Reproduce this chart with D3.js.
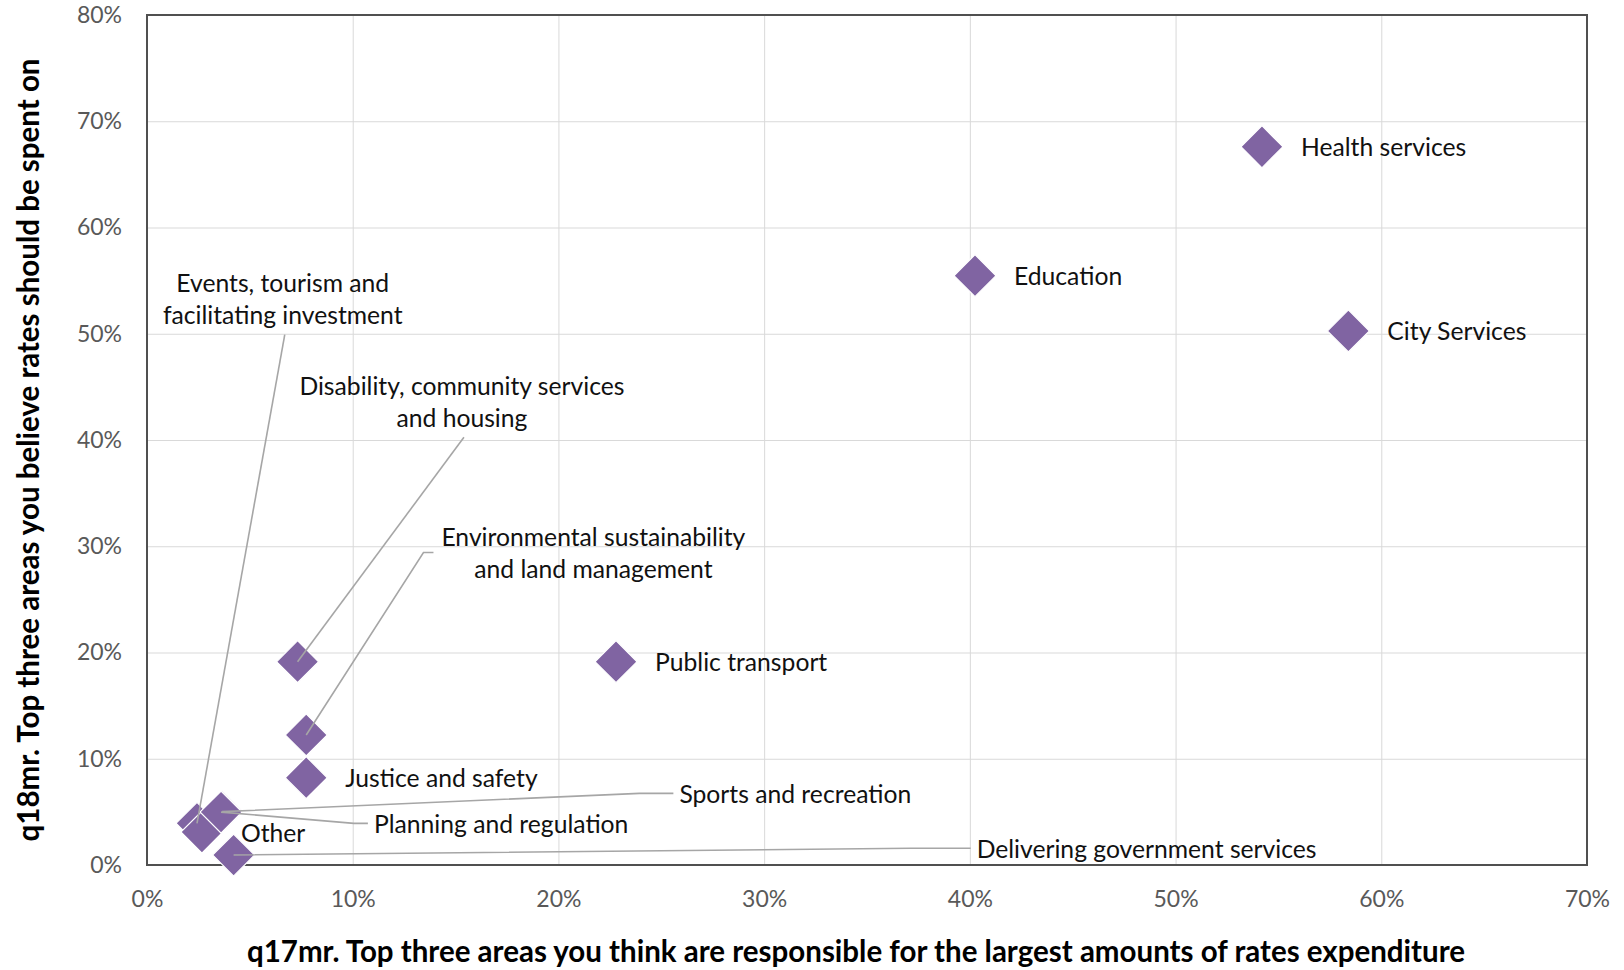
<!DOCTYPE html>
<html><head><meta charset="utf-8">
<script src="https://cdn.jsdelivr.net/npm/d3@7"></script>
<style>body{margin:0;background:#fff;overflow:hidden}</style>
</head><body>
<svg id="chart" width="1624" height="970"></svg>
<script>
// ---- data ----
const categories = [
  "Health services", "Education", "City Services", "Public transport",
  "Disability, community services and housing",
  "Environmental sustainability and land management",
  "Justice and safety", "Events, tourism and facilitating investment",
  "Other", "Sports and recreation", "Planning and regulation",
  "Delivering government services"
];
const xValues = [0.542, 0.4025, 0.584, 0.228, 0.0732, 0.0774, 0.0774, 0.0243, 0.0267, 0.0365, 0.0360, 0.0421];
const yValues = [0.676, 0.5546, 0.5026, 0.1913, 0.1913, 0.1224, 0.0822, 0.0392, 0.0310, 0.0502, 0.0498, 0.0094];
const xTicks = [0, 0.1, 0.2, 0.3, 0.4, 0.5, 0.6, 0.7];
const yTicks = [0, 0.1, 0.2, 0.3, 0.4, 0.5, 0.6, 0.7, 0.8];
const xTitle = "q17mr. Top three areas you think are responsible for the largest amounts of rates expenditure";
const yTitle = "q18mr. Top three areas you believe rates should be spent on";

// label text lines per category
const labelLines = [
  ["Health services"], ["Education"], ["City Services"], ["Public transport"],
  ["Disability, community services", "and housing"],
  ["Environmental sustainability", "and land management"],
  ["Justice and safety"], ["Events, tourism and", "facilitating investment"],
  ["Other"], ["Sports and recreation"], ["Planning and regulation"],
  ["Delivering government services"]
];

// ---- layout (label placement, in data units where placed manually) ----
const labelLayout = [
  {mode: "right"}, {mode: "right"}, {mode: "right"}, {mode: "right"},
  {mode: "below", lx: 0.1531, ly: 0.4515},
  {mode: "left",  lx: 0.217,  ly: 0.3092},
  {mode: "right"},
  {mode: "below", lx: 0.066,  ly: 0.5482},
  {mode: "right"},
  {mode: "side",  lx: 0.2588, ly: 0.0674, seg: 34},
  {mode: "side",  lx: 0.1103, ly: 0.0392, seg: 14},
  {mode: "side",  lx: 0.4033, ly: 0.0158, seg: 60}
];

const W = 1624, H = 970;
const M = {left: 147, top: 15, right: W - 1587, bottom: H - 865};
const iw = W - M.left - M.right, ih = H - M.top - M.bottom;

const svg = d3.select("#chart");
const x = d3.scaleLinear().domain([0, 0.7]).range([M.left, M.left + iw]);
const y = d3.scaleLinear().domain([0, 0.8]).range([M.top + ih, M.top]);
const pct = d3.format(".0%");

const FONT = "Lato, 'Open Sans', sans-serif";
const LABEL_SIZE = 24.7, LINE_H = 32;

// gridlines
svg.append("g")
  .attr("transform", `translate(0,${M.top + ih})`)
  .call(d3.axisBottom(x).tickValues(xTicks).tickSize(-ih).tickFormat(""))
  .call(g => g.select(".domain").remove())
  .call(g => g.selectAll("line").attr("stroke", "#d9d9d9").attr("stroke-width", 1));
svg.append("g")
  .attr("transform", `translate(${M.left},0)`)
  .call(d3.axisLeft(y).tickValues(yTicks).tickSize(-iw).tickFormat(""))
  .call(g => g.select(".domain").remove())
  .call(g => g.selectAll("line").attr("stroke", "#d9d9d9").attr("stroke-width", 1));

// tick labels via axes
const xa = svg.append("g")
  .attr("transform", `translate(0,${M.top + ih})`)
  .call(d3.axisBottom(x).tickValues(xTicks).tickSize(0).tickPadding(35).tickFormat(pct));
xa.select(".domain").remove();
xa.selectAll("text").attr("font-family", FONT).attr("font-size", 23).attr("fill", "#595959")
  .attr("dy", "0.32em");
const ya = svg.append("g")
  .attr("transform", `translate(${M.left},0)`)
  .call(d3.axisLeft(y).tickValues(yTicks).tickSize(0).tickPadding(25).tickFormat(pct));
ya.select(".domain").remove();
ya.selectAll("text").attr("font-family", FONT).attr("font-size", 23).attr("fill", "#595959");

// plot border
svg.append("rect")
  .attr("x", M.left).attr("y", M.top).attr("width", iw).attr("height", ih)
  .attr("fill", "none").attr("stroke", "#505050").attr("stroke-width", 2);

// axis titles
svg.append("text")
  .attr("x", 856).attr("y", 950).attr("text-anchor", "middle").attr("dominant-baseline", "central")
  .attr("font-family", FONT).attr("font-weight", "bold").attr("font-size", 29.5).attr("fill", "#000")
  .text(xTitle);
svg.append("text")
  .attr("transform", `translate(27,${450}) rotate(-90)`)
  .attr("text-anchor", "middle").attr("dominant-baseline", "central")
  .attr("font-family", FONT).attr("font-weight", "bold").attr("font-size", 29.5).attr("fill", "#000")
  .text(yTitle);

// points
const pts = categories.map((c, i) => ({c, i, x: xValues[i], y: yValues[i], lines: labelLines[i], lay: labelLayout[i]}));
const diamond = d3.symbol().type(d3.symbolSquare).size(880);
svg.append("g").selectAll("path").data(pts).join("path")
  .attr("d", diamond)
  .attr("transform", d => `translate(${x(d.x)},${y(d.y)}) rotate(45)`)
  .attr("fill", "#8064a2").attr("stroke", "#ffffff").attr("stroke-width", 1.2);

// leader lines
const lg = svg.append("g").attr("fill", "none").attr("stroke", "#a6a6a6").attr("stroke-width", 1.6);
pts.forEach(d => {
  const L = d.lay, px = x(d.x), py = y(d.y);
  if (L.mode === "side") {
    const tx = x(L.lx) - 6, ty = y(L.ly);
    lg.append("path").attr("d", d3.line()([[px, py], [tx - L.seg, ty], [tx, ty]]));
  } else if (L.mode === "left") {
    const ty = y(L.ly) + LINE_H / 2;
    d._leader = {px, py, ty};
  } else if (L.mode === "below") {
    const tx = x(L.lx), ty = y(L.ly) + LINE_H * (d.lines.length - 1) + 20;
    lg.append("path").attr("d", d3.line()([[tx + 2, ty], [px, py]]));
  }
});

// labels
const tg = svg.append("g").attr("font-family", FONT).attr("font-size", LABEL_SIZE).attr("fill", "#111");
pts.forEach(d => {
  const L = d.lay;
  let tx, ty, anchor;
  if (L.mode === "right") { tx = x(d.x) + 39; ty = y(d.y); anchor = "start"; }
  else if (L.mode === "side") { tx = x(L.lx); ty = y(L.ly); anchor = "start"; }
  else { tx = x(L.lx); ty = y(L.ly); anchor = "middle"; }
  const t = tg.append("text").attr("text-anchor", anchor);
  d.lines.forEach((ln, k) => {
    t.append("tspan").attr("x", tx).attr("y", ty + k * LINE_H)
      .attr("dominant-baseline", "central").text(ln);
  });
  if (L.mode === "left" && d._leader) {
    const bb = t.node().getBBox();
    const ex = bb.x - 8, ey = d._leader.ty;
    lg.append("path").attr("d", d3.line()([[d._leader.px, d._leader.py], [ex - 10, ey], [ex, ey]]));
  }
});
</script>
</body></html>
